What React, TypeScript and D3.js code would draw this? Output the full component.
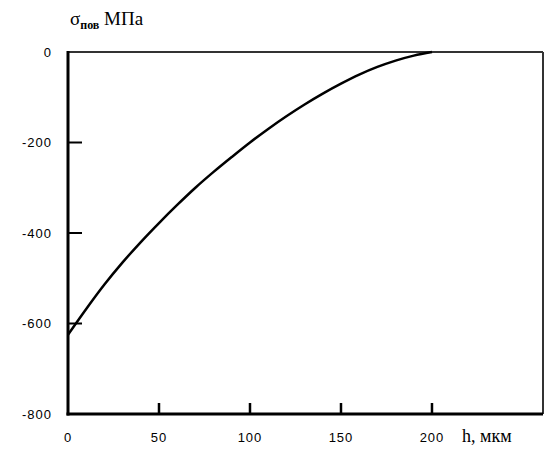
import React from 'react'
import * as d3 from 'd3'

// depth h, мкм and residual stress, МПа
const depth = [0, 10, 20, 30, 40, 50, 60, 70, 80, 90, 100, 110, 120, 130, 140, 150, 160, 170, 180, 190, 200]
const stress = [-625, -568, -514, -465, -420, -378, -338, -300, -265, -232, -200, -170, -142, -116, -92, -70, -50, -33, -19, -8, 0]
const xTicks = [0, 50, 100, 150, 200]
const yTicks = [0, -200, -400, -600, -800]

const width = 545
const height = 450
const margin = { top: 52, right: 2, bottom: 36, left: 68 }

const App = () => {
  const x = d3.scaleLinear().domain([0, 261]).range([margin.left, width - margin.right])
  const y = d3.scaleLinear().domain([-800, 0]).range([height - margin.bottom, margin.top])

  const line = d3.line<number>()
    .x((d, i) => x(depth[i]))
    .y((d) => y(d))
    .curve(d3.curveMonotoneX)

  const x0 = x(0)
  const x1 = width - margin.right
  const y0 = y(0)
  const y1 = y(-800)

  return (
    <svg width={width} height={height} style={{ position: 'absolute', left: 0, top: 0, background: '#fff' }}>
      {/* frame */}
      <line x1={x0} x2={x1} y1={y0} y2={y0} stroke='#333' strokeWidth={2} />
      <line x1={x1} x2={x1} y1={y0} y2={y1} stroke='#333' strokeWidth={2} />
      <line x1={x0} x2={x0} y1={y0 - 1} y2={y1 + 1.5} stroke='#000' strokeWidth={3} />
      <line x1={x0 - 1.5} x2={x1} y1={y1} y2={y1} stroke='#000' strokeWidth={3} />

      {/* y ticks */}
      {yTicks.map((t) => (
        <g key={'y' + t}>
          {t !== 0 && t !== -800 && (
            <line x1={x0} x2={x0 + 14} y1={y(t)} y2={y(t)} stroke='#000' strokeWidth={2} />
          )}
          <text x={52} y={y(t)} dy='0.35em' textAnchor='end' fontFamily='Liberation Sans, Arial, sans-serif'
            fontSize={13} letterSpacing={1}>{t}</text>
        </g>
      ))}

      {/* x ticks */}
      {xTicks.map((t) => (
        <g key={'x' + t}>
          {t !== 0 && (
            <line x1={x(t)} x2={x(t)} y1={y1} y2={y1 - 11} stroke='#000' strokeWidth={2.5} />
          )}
          <text x={x(t)} y={442} textAnchor='middle' fontFamily='Liberation Sans, Arial, sans-serif'
            fontSize={13} letterSpacing={1}>{t}</text>
        </g>
      ))}

      {/* curve */}
      <path d={line(stress) || ''} fill='none' stroke='#000' strokeWidth={2.5} />

      {/* axis titles */}
      <text x={70} y={25} fontFamily='Liberation Serif, Times New Roman, serif' fontSize={19}>
        σ
        <tspan dy={4} fontSize={12} fontWeight='bold'>пов</tspan>
        <tspan dy={-4}> МПа</tspan>
      </text>
      <text x={462} y={442} fontFamily='Liberation Serif, Times New Roman, serif' fontSize={18}>h, мкм</text>
    </svg>
  )
}

export default App
